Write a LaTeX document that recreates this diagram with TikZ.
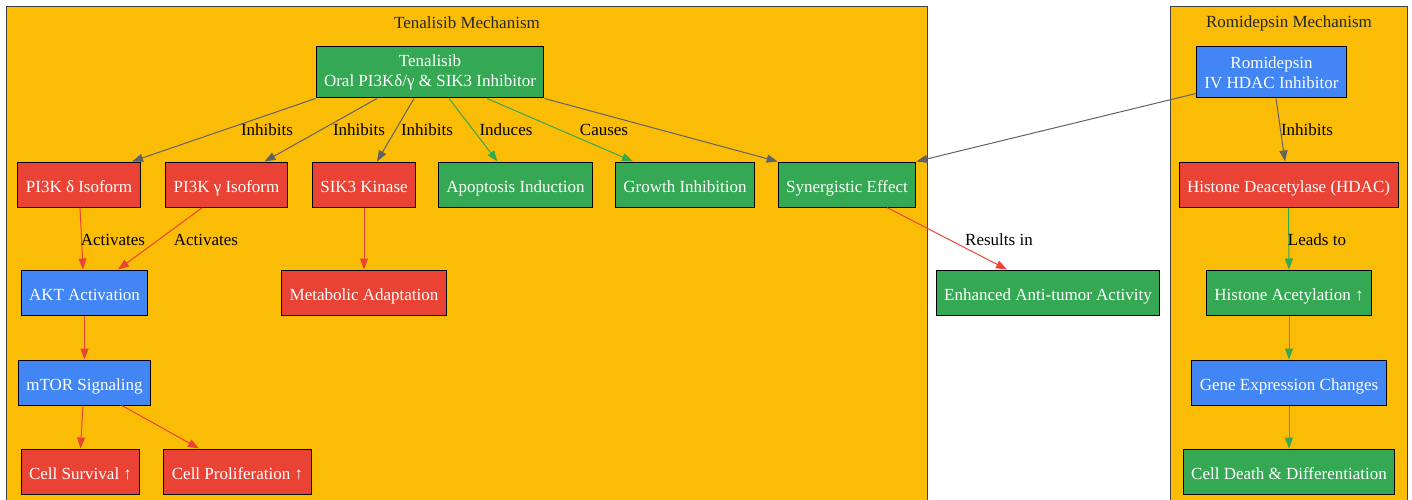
\documentclass[tikz,border=0pt]{standalone}
\usepackage{fontspec}
\setmainfont{Liberation Serif}
\usetikzlibrary{arrows.meta}
\definecolor{gred}{HTML}{EA4335}
\definecolor{ggreen}{HTML}{34A853}
\definecolor{gblue}{HTML}{4285F4}
\definecolor{gyellow}{HTML}{FBBC05}
\definecolor{edgegrey}{HTML}{5F6368}

\begin{document}
\begin{tikzpicture}[x=1pt,y=-1pt,
  box/.style={draw=black, line width=1pt, text=white, font=\fontsize{17}{20}\selectfont,
    minimum height=45pt, inner xsep=8pt, align=center, text height=17pt, text depth=2pt},
  redbox/.style={box, fill=gred},
  greenbox/.style={box, fill=ggreen},
  bluebox/.style={box, fill=gblue},
  twoline/.style={minimum height=51pt, text height={}, text depth={}},
  lbl/.style={font=\fontsize{17}{20}\selectfont, text=black, inner sep=0pt},
  cluster/.style={fill=gyellow, draw=black!75, line width=1pt},
  title/.style={font=\fontsize{17}{20}\selectfont, text=black!85, inner sep=0pt},
  link/.style={-{Triangle[length=11pt,width=8pt]}, line width=1pt},
  inh/.style={link, draw=edgegrey},
  act/.style={link, draw=gred},
  ind/.style={link, draw=ggreen}]
 \useasboundingbox (0,0) rectangle (1412,500);
 \clip (0,0) rectangle (1412,500);

% clusters
\filldraw[cluster] (6.5,7) rectangle (927,520);
\filldraw[cluster] (1170,7) rectangle (1407.5,520);
\node[title] (tentitle) at (467,23) {Tenalisib Mechanism};
\node[title] (romtitle) at (1289,23) {Romidepsin Mechanism};

% drugs
\node[greenbox, twoline] (ten) at (430,72.5) {Tenalisib\\Oral PI3Kδ/γ \& SIK3 Inhibitor};
\node[bluebox, twoline] (rom) at (1271.5,72.5) {Romidepsin\\IV HDAC Inhibitor};

% targets and effects
\node[redbox] (pi3kd) at (79,184.5) {PI3K δ Isoform};
\node[redbox] (pi3kg) at (226.5,184.5) {PI3K γ Isoform};
\node[redbox] (sik3) at (364,184.5) {SIK3 Kinase};
\node[greenbox] (apop) at (515.5,184.5) {Apoptosis Induction};
\node[greenbox] (growth) at (685,184.5) {Growth Inhibition};
\node[greenbox] (syn) at (847,184.5) {Synergistic Effect};
\node[redbox] (hdac) at (1288.5,184.5) {Histone Deacetylase (HDAC)};

\node[bluebox] (akt) at (84.5,292.5) {AKT Activation};
\node[redbox] (meta) at (364,292.5) {Metabolic Adaptation};
\node[greenbox] (enh) at (1048,292.5) {Enhanced Anti-tumor Activity};
\node[greenbox] (hacet) at (1289,292.5) {Histone Acetylation ↑};

\node[bluebox] (mtor) at (84.5,382.5) {mTOR Signaling};
\node[bluebox] (gene) at (1289,382.5) {Gene Expression Changes};

\node[redbox] (surv) at (80.5,471.5) {Cell Survival ↑};
\node[redbox] (prol) at (237.5,471.5) {Cell Proliferation ↑};
\node[greenbox] (death) at (1289,471.5) {Cell Death \& Differentiation};

% connectors
\draw[inh] (ten.south west) -- ([xshift=53pt]pi3kd.north);
\draw[inh] ([xshift=-53pt]ten.south) -- ([xshift=38pt]pi3kg.north);
\draw[inh] ([xshift=-16pt]ten.south) -- ([xshift=13pt]sik3.north);
\draw[ind] ([xshift=19pt]ten.south) -- ([xshift=-18pt]apop.north);
\draw[ind] ([xshift=57pt]ten.south) -- ([xshift=-52pt]growth.north);
\draw[inh] (ten.south east) -- (syn.north west);
\draw[inh] ([yshift=5pt]rom.south west) -- (syn.north east);
\draw[inh] ([xshift=4.5pt]rom.south) -- ([xshift=-3.5pt]hdac.north);

\draw[act] ([xshift=1pt]pi3kd.south) -- ([xshift=-1.5pt]akt.north);
\draw[act] ([xshift=-24pt]pi3kg.south) -- ([xshift=33.5pt]akt.north);
\draw[act] (sik3) -- (meta);
\draw[act] (akt) -- (mtor);
\draw[act] ([xshift=-1.5pt]mtor.south) -- (surv.north);
\draw[act] ([xshift=37.5pt]mtor.south) -- ([xshift=-38.5pt]prol.north);
\draw[act] ([xshift=40pt]syn.south) -- ([xshift=-41pt]enh.north);

\foreach \a/\b in {hdac/hacet, hacet/gene, gene/death}
	\draw[ind] (\a) -- (\b);

% edge labels
\node[lbl] (l1) at (267,130) {Inhibits};
\node[lbl] (l2) at (359,130) {Inhibits};
\node[lbl] (l3) at (427,130) {Inhibits};
\node[lbl] (l4) at (506,130) {Induces};
\node[lbl] (l5) at (604,130) {Causes};
\node[lbl] (l6) at (1307,130) {Inhibits};
\node[lbl] (l7) at (113,240) {Activates};
\node[lbl] (l8) at (206,240) {Activates};
\node[lbl] (l9) at (999,240) {Results in};
\node[lbl] (l10) at (1317,240) {Leads to};

\end{tikzpicture}
\end{document}
